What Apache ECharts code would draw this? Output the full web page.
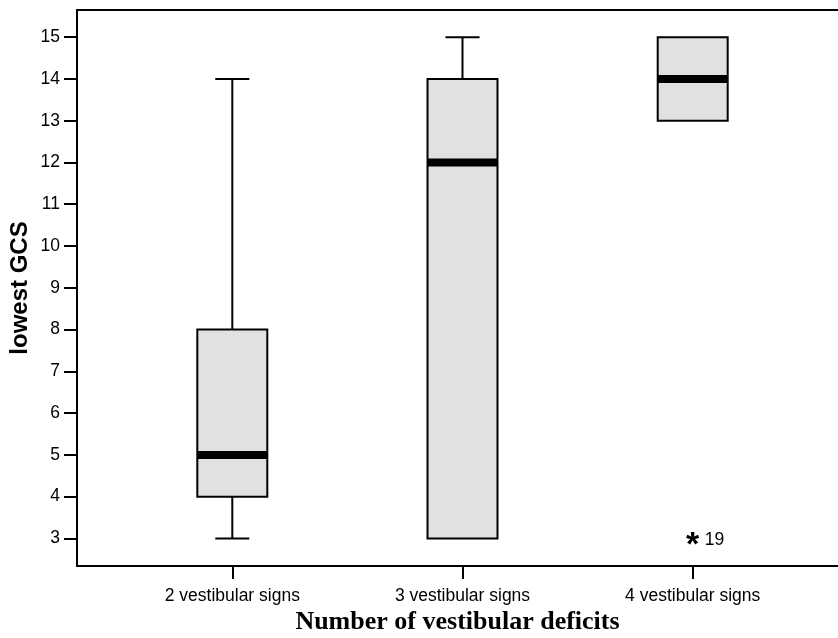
<!DOCTYPE html>
<html><head><meta charset="utf-8">
<script src="https://cdn.jsdelivr.net/npm/echarts@6/dist/echarts.min.js"></script>
<style>html,body{margin:0;padding:0;background:#fff}#c{width:838px;height:638px}</style>
</head><body><div id="c"></div>
<script>
const categories = ['2 vestibular signs', '3 vestibular signs', '4 vestibular signs'];
const whiskerLow = [3, 3, 13];
const q1 = [4, 3, 13];
const median = [5, 12, 14];
const q3 = [8, 14, 15];
const whiskerHigh = [14, 15, 15];
const outlierCategory = [2];
const outlierValue = [3];
const outlierLabel = ['19'];
const yTicks = [3, 4, 5, 6, 7, 8, 9, 10, 11, 12, 13, 14, 15];
const Y_MIN = 2.34, Y_MAX = 15.65;

const boxData = categories.map((c, i) => [i, whiskerLow[i], q1[i], median[i], q3[i], whiskerHigh[i]]);
const outData = outlierCategory.map((c, i) => [c, outlierValue[i]]);

const SANS = '"Liberation Sans", Arial, sans-serif';

function renderBox(params, api) {
  const x = api.value(0);
  const pLo = api.coord([x, api.value(1)]);
  const pQ1 = api.coord([x, api.value(2)]);
  const pMed = api.coord([x, api.value(3)]);
  const pQ3 = api.coord([x, api.value(4)]);
  const pHi = api.coord([x, api.value(5)]);
  const band = api.size([1, 0])[0];
  const bw = band * 0.304, cw = band * 0.148;
  const cx = pMed[0];
  const ls = { stroke: '#000', lineWidth: 2 };
  const ch = [];
  if (pHi[1] < pQ3[1] - 0.5) {
    ch.push({ type: 'line', shape: { x1: cx, y1: pHi[1], x2: cx, y2: pQ3[1] }, style: ls });
    ch.push({ type: 'line', shape: { x1: cx - cw / 2, y1: pHi[1], x2: cx + cw / 2, y2: pHi[1] }, style: ls });
  }
  if (pLo[1] > pQ1[1] + 0.5) {
    ch.push({ type: 'line', shape: { x1: cx, y1: pQ1[1], x2: cx, y2: pLo[1] }, style: ls });
    ch.push({ type: 'line', shape: { x1: cx - cw / 2, y1: pLo[1], x2: cx + cw / 2, y2: pLo[1] }, style: ls });
  }
  ch.push({ type: 'rect', shape: { x: cx - bw / 2, y: pQ3[1], width: bw, height: pQ1[1] - pQ3[1] },
    style: { fill: '#e1e1e1', stroke: '#000', lineWidth: 2 } });
  ch.push({ type: 'rect', shape: { x: cx - bw / 2, y: pMed[1] - 4, width: bw, height: 8 }, style: { fill: '#000' } });
  return { type: 'group', children: ch };
}

function renderOut(params, api) {
  const p = api.coord([api.value(0), api.value(1)]);
  return { type: 'group', children: [
    { type: 'text', x: p[0], y: p[1] + 7, style: { text: '*', font: 'bold 34px ' + SANS, fill: '#000', align: 'center', verticalAlign: 'middle' } },
    { type: 'text', x: p[0] + 12, y: p[1] + 2, style: { text: outlierLabel[params.dataIndex], font: '17.5px ' + SANS, fill: '#000', align: 'left', verticalAlign: 'middle' } }
  ] };
}

const chart = echarts.init(document.getElementById('c'), null, { renderer: 'canvas' });
chart.setOption({
  animation: false,
  backgroundColor: '#fff',
  grid: [
    { left: 117.2, right: 30.2, top: 10, bottom: 72, containLabel: false, outerBoundsMode: 'none' },
    { left: 77, right: 0, top: 10, bottom: 72, containLabel: false, outerBoundsMode: 'none' }
  ],
  xAxis: [
    { type: 'category', gridIndex: 0, data: categories, boundaryGap: true,
      axisLine: { show: false },
      axisTick: { show: true, alignWithLabel: true, length: 13, lineStyle: { color: '#000', width: 2 } },
      axisLabel: { color: '#000', fontFamily: SANS, fontSize: 17.5, margin: 21 } },
    { type: 'value', gridIndex: 1, min: 0, max: 1, position: 'bottom',
      axisLine: { show: true, onZero: false, lineStyle: { color: '#000', width: 2 } },
      axisTick: { show: false }, axisLabel: { show: false }, splitLine: { show: false },
      name: 'Number of vestibular deficits', nameLocation: 'middle', nameGap: 43, nameMoveOverlap: false,
      nameTextStyle: { color: '#000', fontFamily: '"Liberation Serif", "Times New Roman", serif', fontWeight: 'bold', fontSize: 26 } },
    { type: 'value', gridIndex: 1, min: 0, max: 1, position: 'top',
      axisLine: { show: true, onZero: false, lineStyle: { color: '#000', width: 2 } },
      axisTick: { show: false }, axisLabel: { show: false }, splitLine: { show: false } }
  ],
  yAxis: [
    { type: 'value', gridIndex: 0, min: Y_MIN, max: Y_MAX, offset: 40.2, position: 'left',
      axisLine: { show: true, onZero: false, lineStyle: { color: '#000', width: 2 } },
      axisTick: { show: true, length: 13, customValues: yTicks, lineStyle: { color: '#000', width: 2 } },
      axisLabel: { color: '#000', fontFamily: SANS, fontSize: 17.5, margin: 17, customValues: yTicks },
      splitLine: { show: false },
      name: 'lowest GCS', nameLocation: 'middle', nameGap: 45, nameMoveOverlap: false,
      nameTextStyle: { color: '#000', fontFamily: SANS, fontWeight: 'bold', fontSize: 24 } },
    { type: 'value', gridIndex: 1, min: 0, max: 1, show: false }
  ],
  series: [
    { type: 'custom', xAxisIndex: 0, yAxisIndex: 0, data: boxData, renderItem: renderBox,
      encode: { x: 0, y: [1, 2, 3, 4, 5] }, silent: true },
    { type: 'custom', xAxisIndex: 0, yAxisIndex: 0, data: outData, renderItem: renderOut,
      encode: { x: 0, y: 1 }, silent: true }
  ]
});
</script>
</body></html>
